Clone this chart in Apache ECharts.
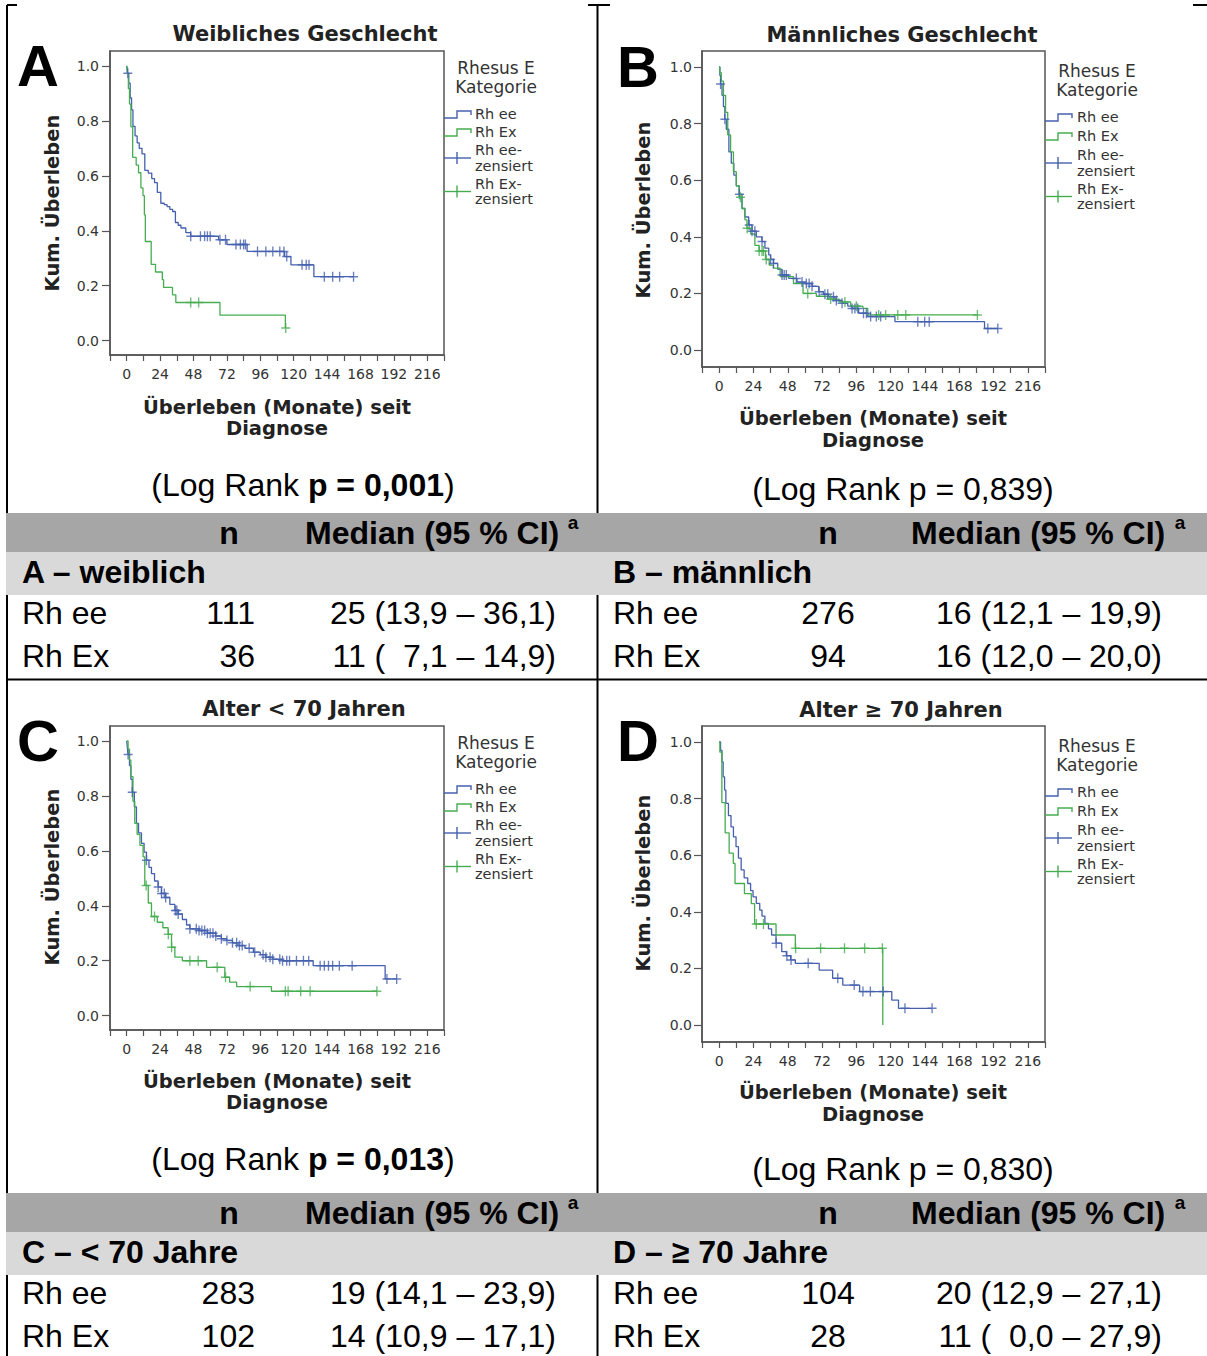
<!DOCTYPE html>
<html><head><meta charset="utf-8">
<script src="https://cdn.jsdelivr.net/npm/echarts@6/dist/echarts.min.js"></script>
<style>html,body{margin:0;padding:0;background:#fff}#c{width:1207px;height:1356px}</style>
</head><body><div id="c"></div>
<script>
// ---------------- DATA ----------------
const X_LABELS = [0, 24, 48, 72, 96, 120, 144, 168, 192, 216];
const X_TICKS = [-12, 0, 12, 24, 36, 48, 60, 72, 84, 96, 108, 120, 132, 144, 156, 168, 180, 192, 204, 216, 228];
const Y_LABELS = [0, 0.2, 0.4, 0.6, 0.8, 1.0];

const TITLES = ['Weibliches Geschlecht', 'Männliches Geschlecht', 'Alter < 70 Jahren', 'Alter \u2265 70 Jahren'];
const LETTERS = ['A', 'B', 'C', 'D'];
const LEGEND_TITLE = ['Rhesus E', 'Kategorie'];
const LEGEND_ITEMS = ['Rh ee', 'Rh Ex', 'Rh ee-', 'zensiert', 'Rh Ex-', 'zensiert'];
const X_NAME = ['Überleben (Monate) seit', 'Diagnose'];
const Y_NAME = 'Kum. Überleben';
const P_VALUES = ['0,001', '0,839', '0,013', '0,830'];
const P_BOLD = [true, false, true, false];
const GROUPS = ['A \u2013 weiblich', 'B \u2013 männlich', 'C \u2013 < 70 Jahre', 'D \u2013 \u2265 70 Jahre'];
const ROW_LABELS = ['Rh ee', 'Rh Ex'];
const TABLE_N = [['111', '36'], ['276', '94'], ['283', '102'], ['104', '28']];
const TABLE_MED = [
  ['25 (13,9 \u2013 36,1)', '11 (\u00a0\u00a07,1 \u2013 14,9)'],
  ['16 (12,1 \u2013 19,9)', '16 (12,0 \u2013 20,0)'],
  ['19 (14,1 \u2013 23,9)', '14 (10,9 \u2013 17,1)'],
  ['20 (12,9 \u2013 27,1)', '11 (\u00a0\u00a00,0 \u2013 27,9)']
];

// Panel A – weiblich
const A_ee_t = [0, 0.3, 0.6, 1.5, 2.5, 3.5, 4.5, 6, 7.5, 9, 11, 13, 15.5, 18, 20, 22, 24.5, 27, 29, 31, 33, 35, 37, 39, 42.5, 46, 66, 72, 86.5, 113.5, 118, 134.5];
const A_ee_s = [1, 0.991, 0.973, 0.937, 0.883, 0.84, 0.78, 0.745, 0.72, 0.70, 0.68, 0.62, 0.61, 0.59, 0.575, 0.54, 0.50, 0.495, 0.488, 0.478, 0.47, 0.43, 0.42, 0.41, 0.393, 0.38, 0.367, 0.35, 0.325, 0.306, 0.276, 0.233];
const A_ee_c = [0.8, 46, 53, 56, 58, 60, 67, 71, 78.5, 81.7, 84, 85.3, 94, 100, 105, 110, 113, 115, 126, 129, 131, 142, 148, 153, 163];
const A_ex_t = [0, 0.5, 1.2, 2, 3, 4.3, 6.8, 8.5, 10.2, 11.7, 12.7, 13.4, 17.6, 20.7, 25.6, 26.5, 32.9, 35.3, 67, 114];
const A_ex_s = [1, 0.972, 0.917, 0.861, 0.778, 0.667, 0.639, 0.611, 0.556, 0.528, 0.458, 0.361, 0.278, 0.25, 0.222, 0.194, 0.167, 0.139, 0.093, 0.046];
const A_ex_c = [46, 51.7, 114.3];

// Panel B – männlich
const B_ee_t = [0, 0.5, 1, 2, 3, 4, 5, 6.8, 8.5, 10.3, 12, 14, 16, 18, 20.7, 23, 26, 30, 32, 34.7, 36, 38, 41, 44, 48.7, 54.5, 60, 65, 69.7, 73, 76.7, 81, 86, 90, 93, 97.6, 104, 123, 185.7];
const B_ee_s = [1, 0.97, 0.94, 0.90, 0.86, 0.815, 0.78, 0.70, 0.66, 0.618, 0.58, 0.55, 0.50, 0.47, 0.442, 0.42, 0.40, 0.383, 0.36, 0.336, 0.32, 0.306, 0.285, 0.265, 0.253, 0.24, 0.235, 0.225, 0.206, 0.197, 0.188, 0.175, 0.165, 0.155, 0.147, 0.13, 0.118, 0.10, 0.076];
const B_ee_c = [1, 4, 14.2, 21, 23, 25, 30, 36, 38, 44, 45.5, 47, 54, 58, 61, 63, 65, 70, 74, 76, 80, 82, 86, 93, 95, 97, 101, 103, 106, 110, 113, 139, 143.8, 147, 188, 195];
const B_ex_t = [0, 0.5, 1.5, 3, 4.5, 6, 8, 10, 12, 14, 16, 18, 19.5, 22, 25, 28, 32.4, 35, 38, 42.7, 52, 58.7, 68, 76, 84, 92, 100.6, 104];
const B_ex_s = [1, 0.98, 0.95, 0.90, 0.84, 0.76, 0.70, 0.63, 0.58, 0.54, 0.50, 0.46, 0.43, 0.41, 0.37, 0.35, 0.32, 0.30, 0.289, 0.259, 0.235, 0.20, 0.19, 0.18, 0.17, 0.155, 0.147, 0.124];
const B_ex_c = [14.9, 19.6, 28, 30, 31, 33, 62, 78, 88, 96, 111.6, 116.5, 125, 130.6, 180.7];

// Panel C – < 70 Jahre
const C_ee_t = [0, 0.5, 1, 2, 3, 4, 5.5, 7, 8.5, 10.6, 12.5, 14.2, 16, 17.8, 20, 22.6, 25, 28, 31, 34.6, 37, 40, 43, 45.4, 52, 58, 64, 68, 71.8, 76, 80, 85, 91, 96, 100, 105, 112, 134, 185.7];
const C_ee_s = [1, 0.975, 0.95, 0.91, 0.86, 0.813, 0.76, 0.70, 0.665, 0.627, 0.595, 0.566, 0.54, 0.517, 0.49, 0.468, 0.445, 0.43, 0.405, 0.383, 0.37, 0.35, 0.33, 0.316, 0.31, 0.30, 0.29, 0.28, 0.274, 0.265, 0.255, 0.245, 0.231, 0.222, 0.213, 0.205, 0.20, 0.182, 0.134];
const C_ee_c = [1, 4, 14.2, 22.6, 25, 27, 28, 35, 36, 37, 45.4, 50, 52, 54, 56, 58, 60, 62, 64, 68, 72, 76, 79, 81, 83, 88, 92, 98, 100, 103, 105, 110, 112, 115, 117, 122, 127, 130.8, 139, 142, 145, 148, 152.8, 162, 187, 194];
const C_ex_t = [0, 1, 2, 3, 4.5, 5.8, 7.5, 9.5, 11.8, 13, 15.5, 17.8, 22, 26, 29.8, 32.2, 34.6, 40, 57.4, 70.5, 74, 79, 104];
const C_ex_s = [1, 0.97, 0.93, 0.87, 0.78, 0.70, 0.66, 0.62, 0.578, 0.474, 0.41, 0.361, 0.34, 0.32, 0.296, 0.249, 0.213, 0.20, 0.176, 0.14, 0.122, 0.106, 0.089];
const C_ex_c = [14, 20, 29.9, 32.3, 45.4, 51.4, 65, 71, 88.7, 114, 116, 125, 131.8, 179.8];

// Panel D – >= 70 Jahre
const D_ee_t = [0, 1, 2, 2.8, 3.8, 4.7, 6.5, 8.3, 10, 11.8, 13.5, 15.4, 17.5, 20, 22, 23.7, 26, 28.4, 30, 32, 34.5, 36.7, 39.8, 43.8, 47, 50, 53.3, 70, 79.4, 86.5, 98.3, 120.8, 125.5];
const D_ee_s = [1, 0.97, 0.93, 0.877, 0.83, 0.783, 0.74, 0.70, 0.665, 0.63, 0.59, 0.548, 0.52, 0.50, 0.475, 0.453, 0.43, 0.406, 0.385, 0.359, 0.34, 0.318, 0.289, 0.259, 0.245, 0.23, 0.218, 0.194, 0.165, 0.141, 0.118, 0.088, 0.059];
const D_ee_c = [39.9, 47.4, 50.3, 62.3, 83, 94.5, 100.6, 105.8, 114.8, 130, 149];
const D_ex_t = [0, 0.5, 1.9, 4.2, 7, 9.9, 11.1, 17.7, 22.5, 24.8, 39.8, 53.3, 114.5];
const D_ex_s = [1, 0.964, 0.786, 0.679, 0.607, 0.571, 0.50, 0.464, 0.429, 0.357, 0.318, 0.271, 0];
const D_ex_c = [26, 31, 53.5, 71, 87.7, 101.8, 114.2];

// ---------------- LAYOUT / STYLE ----------------
const BLUE = '#4560ae', GREEN = '#45ad50', AX = '#555555';
const FONT = '"DejaVu Sans", Verdana, sans-serif';
const TFONT = 'Arial, "Liberation Sans", sans-serif';
const PLUS = 'path://M8.5,0h3v8.5h8.5v3h-8.5v8.5h-3v-8.5h-8.5v-3h8.5z';

const CURVES = [
  {ee: [A_ee_t, A_ee_s, A_ee_c], ex: [A_ex_t, A_ex_s, A_ex_c]},
  {ee: [B_ee_t, B_ee_s, B_ee_c], ex: [B_ex_t, B_ex_s, B_ex_c]},
  {ee: [C_ee_t, C_ee_s, C_ee_c], ex: [C_ex_t, C_ex_s, C_ex_c]},
  {ee: [D_ee_t, D_ee_s, D_ee_c], ex: [D_ex_t, D_ex_s, D_ex_c]}
];

const L = [
  {box: {left: 110, top: 51, width: 334, height: 304}, ymin: -0.052, ymax: 1.054, ylm: 11,
   letter: [38, 65], title: [305, 34], yname: [52, 203], xname: [277, 407, 428],
   leg: {tx: 496, ty: 68, ix: 444, lx: 475, ys: [114, 132, 150, 166, 184, 199]}, lr: [303, 485]},
  {box: {left: 702, top: 51, width: 343, height: 316}, ymin: -0.06, ymax: 1.0565, ylm: 10,
   letter: [638, 66], title: [902, 35], yname: [643, 210], xname: [873, 418, 440],
   leg: {tx: 1097, ty: 71, ix: 1045, lx: 1077, ys: [117, 136, 155, 171, 189, 204]}, lr: [903, 489]},
  {box: {left: 110, top: 726, width: 334, height: 304}, ymin: -0.052, ymax: 1.054, ylm: 11,
   letter: [38, 740], title: [304, 709], yname: [52, 877], xname: [277, 1081, 1102],
   leg: {tx: 496, ty: 743, ix: 444, lx: 475, ys: [789, 807, 825, 841, 859, 874]}, lr: [303, 1159]},
  {box: {left: 702, top: 726, width: 343, height: 316}, ymin: -0.06, ymax: 1.0565, ylm: 10,
   letter: [638, 740], title: [901, 710], yname: [643, 883], xname: [873, 1092, 1114],
   leg: {tx: 1097, ty: 746, ix: 1045, lx: 1077, ys: [792, 811, 830, 846, 864, 879]}, lr: [903, 1169]}
];

const TL = [
  {off: 0, lx: 22, nx: 255, nAlign: 'right', mx: 556, hn: 229, hm: 305, sup: 573},
  {off: 0, lx: 613, nx: 828, nAlign: 'center', mx: 1162, hn: 828, hm: 911, sup: 1180},
  {off: 680, lx: 22, nx: 255, nAlign: 'right', mx: 556, hn: 229, hm: 305, sup: 573},
  {off: 680, lx: 613, nx: 828, nAlign: 'center', mx: 1162, hn: 828, hm: 911, sup: 1180}
];

// ---------------- HELPERS ----------------
function stepData(t, s, c) {
  const d = t.map((x, i) => [x, s[i]]);
  const end = Math.max(t[t.length - 1], c.length ? c[c.length - 1] : 0);
  if (end > t[t.length - 1]) d.push([end, s[s.length - 1]]);
  return d;
}
function sAt(t, s, x) {
  let v = s[0];
  for (let i = 0; i < t.length; i++) if (t[i] <= x) v = s[i];
  return v;
}
function T(x, y, text, o) {
  o = o || {};
  const align = o.align || 'left';
  return {
    type: 'text', x: x, y: y, rotation: o.rotation || 0, silent: true, z: o.z || 10,
    style: {
      text: text, fill: o.fill || '#222', font: o.font,
      align: align, textAlign: align, verticalAlign: 'middle', textVerticalAlign: 'middle',
      rich: o.rich
    }
  };
}
function Ln(x1, y1, x2, y2, color, w, z) {
  return {type: 'line', silent: true, z: z || 5, shape: {x1, y1, x2, y2}, style: {stroke: color, lineWidth: w}};
}
function PL(points, color, w, z) {
  return {type: 'polyline', silent: true, z: z || 5, shape: {points}, style: {stroke: color, lineWidth: w, fill: null}};
}

// ---------------- BUILD ----------------
const grid = [], xAxis = [], yAxis = [], series = [], graphic = [];

L.forEach((p, i) => {
  grid.push(Object.assign({show: true, borderColor: AX, borderWidth: 1.5, backgroundColor: '#fff', containLabel: false}, p.box));
  xAxis.push({
    type: 'value', gridIndex: i, min: -12, max: 228,
    axisLine: {show: true, onZero: false, lineStyle: {color: AX, width: 1.5}},
    axisTick: {show: true, customValues: X_TICKS, length: 6, lineStyle: {color: AX, width: 1.2}},
    axisLabel: {customValues: X_LABELS, margin: 12, fontSize: 14, color: '#333', fontFamily: FONT},
    splitLine: {show: false}
  });
  yAxis.push({
    type: 'value', gridIndex: i, min: p.ymin, max: p.ymax,
    axisLine: {show: true, onZero: false, lineStyle: {color: AX, width: 1.5}},
    axisTick: {show: true, customValues: Y_LABELS, length: 8, lineStyle: {color: AX, width: 1.2}},
    axisLabel: {customValues: Y_LABELS, margin: p.ylm, fontSize: 14, color: '#333', fontFamily: FONT,
      formatter: v => v.toFixed(1)},
    splitLine: {show: false}
  });
  const cv = CURVES[i];
  [[cv.ee, BLUE, 'Rh ee'], [cv.ex, GREEN, 'Rh Ex']].forEach(([d, col, nm]) => {
    series.push({
      type: 'line', name: nm, xAxisIndex: i, yAxisIndex: i, step: 'end',
      data: stepData(d[0], d[1], d[2]), showSymbol: false, symbol: 'none',
      lineStyle: {color: col, width: 1.3}, silent: true, z: 2, animation: false
    });
  });
  [[cv.ee, BLUE, 'Rh ee-zensiert'], [cv.ex, GREEN, 'Rh Ex-zensiert']].forEach(([d, col, nm]) => {
    series.push({
      type: 'scatter', name: nm, xAxisIndex: i, yAxisIndex: i,
      data: d[2].map(x => [x, sAt(d[0], d[1], x)]),
      symbol: PLUS, symbolSize: [9, 10], itemStyle: {color: col}, silent: true, z: 3, animation: false
    });
  });

  // texts around the plot
  graphic.push(T(p.letter[0], p.letter[1], LETTERS[i], {align: 'center', font: 'bold 58px ' + TFONT, fill: '#000'}));
  graphic.push(T(p.title[0], p.title[1], TITLES[i], {align: 'center', font: 'bold 21px ' + FONT, fill: '#222'}));
  graphic.push(T(p.yname[0], p.yname[1], Y_NAME, {align: 'center', font: 'bold 19.5px ' + FONT, fill: '#222', rotation: Math.PI / 2}));
  graphic.push(T(p.xname[0], p.xname[1], X_NAME[0], {align: 'center', font: 'bold 19.5px ' + FONT, fill: '#222'}));
  graphic.push(T(p.xname[0], p.xname[2], X_NAME[1], {align: 'center', font: 'bold 19.5px ' + FONT, fill: '#222'}));

  // legend
  const g = p.leg;
  graphic.push(T(g.tx, g.ty, LEGEND_TITLE[0], {align: 'center', font: '17px ' + FONT, fill: '#333'}));
  graphic.push(T(g.tx, g.ty + 19, LEGEND_TITLE[1], {align: 'center', font: '17px ' + FONT, fill: '#333'}));
  LEGEND_ITEMS.forEach((s, k) => {
    graphic.push(T(g.lx, g.ys[k], s, {font: '14.5px ' + FONT, fill: '#333'}));
  });
  const ix = g.ix;
  [[g.ys[0], BLUE], [g.ys[1], GREEN]].forEach(([y, col]) => {
    graphic.push(PL([[ix, y + 4], [ix + 13, y + 4], [ix + 13, y - 3], [ix + 27, y - 3], [ix + 27, y + 1]], col, 1.4, 6));
  });
  [[(g.ys[2] + g.ys[3]) / 2, BLUE], [(g.ys[4] + g.ys[5]) / 2, GREEN]].forEach(([y, col]) => {
    graphic.push(Ln(ix, y, ix + 27, y, col, 1.4, 6));
    graphic.push(Ln(ix + 13, y - 6, ix + 13, y + 6, col, 1.4, 6));
  });

  // Log rank line
  const pv = P_VALUES[i];
  const pb = P_BOLD[i];
  graphic.push(T(p.lr[0], p.lr[1], '{r|(Log Rank\u00a0}{' + (pb ? 'b' : 'r') + '|p = ' + pv + '}{r|)}', {
    align: 'center', font: '32px ' + TFONT, fill: '#000',
    rich: {r: {font: '32px ' + TFONT, fill: '#000'}, b: {font: 'bold 32px ' + TFONT, fill: '#000'}}
  }));
});

// table frame and bands
graphic.push(Ln(7, 5, 7, 1356, '#000', 2, 1));
graphic.push(Ln(597.5, 5, 597.5, 1356, '#000', 2, 1));
graphic.push(Ln(7, 5, 17, 5, '#000', 2, 1));
graphic.push(Ln(588, 5, 610, 5, '#000', 2, 1));
graphic.push(Ln(1193, 5, 1207, 5, '#000', 2, 1));
[0, 680].forEach(off => {
  graphic.push({type: 'rect', silent: true, z: 2, shape: {x: 6, y: 513 + off, width: 1201, height: 39}, style: {fill: '#a6a6a6'}});
  graphic.push({type: 'rect', silent: true, z: 2, shape: {x: 6, y: 552 + off, width: 1201, height: 43}, style: {fill: '#d9d9d9'}});
});
graphic.push(Ln(6, 679.5, 1207, 679.5, '#000', 2, 3));

TL.forEach((t, i) => {
  const o = t.off;
  const B = 'bold 32px ' + TFONT, R = '32px ' + TFONT;
  graphic.push(T(t.hn, 533 + o, 'n', {align: 'center', font: B, fill: '#000'}));
  graphic.push(T(t.hm, 533 + o, 'Median (95 % CI)', {font: B, fill: '#000'}));
  graphic.push(T(t.sup, 522 + o, 'a', {align: 'center', font: 'bold 19px ' + TFONT, fill: '#000'}));
  graphic.push(T(t.lx, 572 + o, GROUPS[i], {font: B, fill: '#000'}));
  ROW_LABELS.forEach((r, k) => {
    const y = 613 + k * 43 + o;
    graphic.push(T(t.lx, y, r, {font: R, fill: '#000'}));
    graphic.push(T(t.nx, y, TABLE_N[i][k], {align: t.nAlign, font: R, fill: '#000'}));
    graphic.push(T(t.mx, y, TABLE_MED[i][k], {align: 'right', font: R, fill: '#000'}));
  });
});

const chart = echarts.init(document.getElementById('c'), null, {renderer: 'svg', width: 1207, height: 1356});
chart.setOption({
  animation: false,
  backgroundColor: '#fff',
  grid, xAxis, yAxis, series, graphic
});
</script></body></html>
